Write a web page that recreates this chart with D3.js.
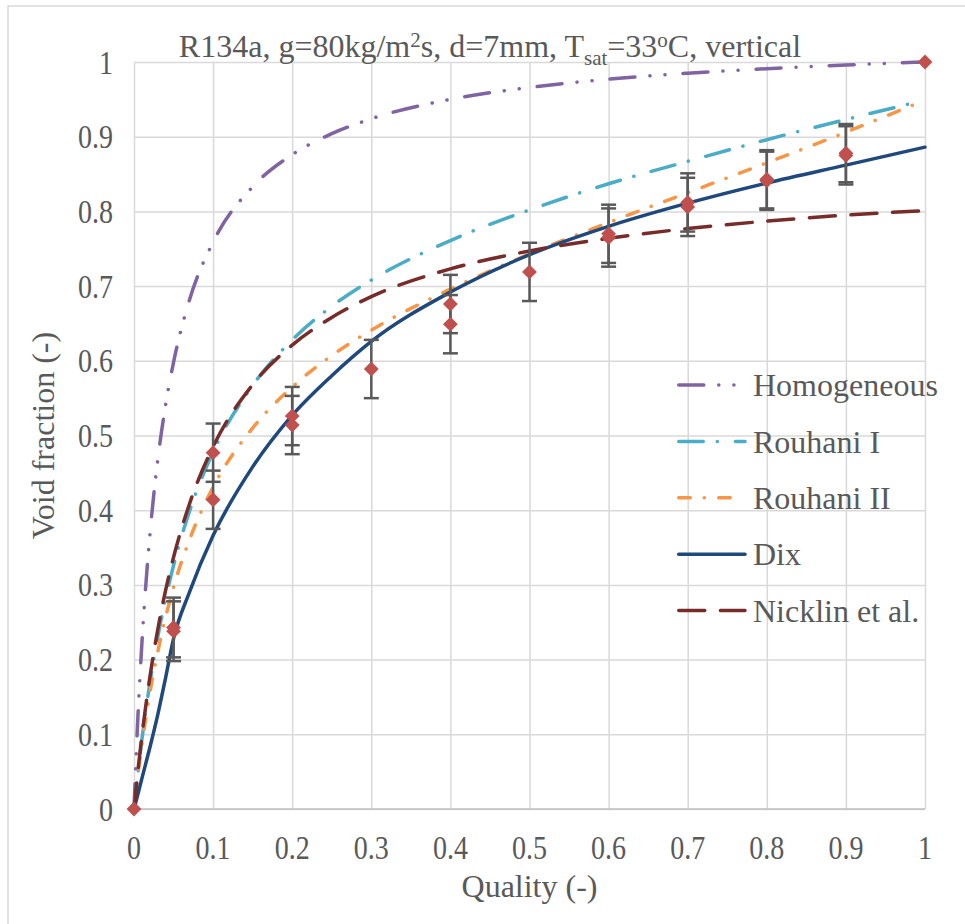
<!DOCTYPE html>
<html>
<head>
<meta charset="utf-8">
<script src="https://cdn.jsdelivr.net/npm/d3@7"></script>
<style>
  html, body { margin: 0; padding: 0; background: #fff; }
  svg text { font-family: "Liberation Serif", "Times New Roman", serif; fill: #595959; }
</style>
</head>
<body>
<div id="chart"></div>
<script>
// quality values where the model curves were read
var qModel = [0, 0.005, 0.01, 0.02, 0.03, 0.04, 0.05, 0.07, 0.1, 0.15, 0.2, 0.25, 0.3, 0.4, 0.5, 0.6, 0.7, 0.8, 0.9, 1];
var homogeneous = [0, 0.125, 0.222, 0.366, 0.467, 0.541, 0.598, 0.681, 0.759, 0.833, 0.876, 0.904, 0.924, 0.950, 0.966, 0.977, 0.985, 0.991, 0.996, 1];
var rouhaniI = [0, 0.049, 0.093, 0.168, 0.230, 0.282, 0.326, 0.398, 0.478, 0.567, 0.628, 0.673, 0.708, 0.761, 0.802, 0.837, 0.867, 0.896, 0.923, 0.949];
var rouhaniII = [0, 0.046, 0.086, 0.155, 0.210, 0.257, 0.297, 0.360, 0.431, 0.510, 0.565, 0.607, 0.641, 0.696, 0.743, 0.785, 0.825, 0.865, 0.906, 0.949];
var dix = [0, 0.020, 0.041, 0.082, 0.126, 0.176, 0.228, 0.290, 0.366, 0.458, 0.527, 0.580, 0.626, 0.692, 0.742, 0.780, 0.811, 0.838, 0.862, 0.886];
var nicklin = [0, 0.052, 0.098, 0.176, 0.240, 0.293, 0.337, 0.408, 0.485, 0.568, 0.621, 0.658, 0.686, 0.723, 0.747, 0.764, 0.777, 0.787, 0.795, 0.801];

// experimental points with +/- error
var qExp = [0, 0.05, 0.05, 0.1, 0.1, 0.2, 0.2, 0.3, 0.4, 0.4, 0.5, 0.6, 0.6, 0.7, 0.7, 0.8, 0.8, 0.9, 0.9, 1];
var alphaExp = [0, 0.243, 0.238, 0.477, 0.414, 0.526, 0.514, 0.589, 0.676, 0.649, 0.719, 0.770, 0.765, 0.812, 0.806, 0.843, 0.841, 0.878, 0.875, 1];
var errExp = [0, 0.04, 0.04, 0.039, 0.039, 0.039, 0.039, 0.039, 0.039, 0.039, 0.039, 0.039, 0.039, 0.039, 0.039, 0.039, 0.039, 0.039, 0.039, 0];

var xTicks = [0, 0.1, 0.2, 0.3, 0.4, 0.5, 0.6, 0.7, 0.8, 0.9, 1];
var yTicks = [0, 0.1, 0.2, 0.3, 0.4, 0.5, 0.6, 0.7, 0.8, 0.9, 1];

var series = [
  { name: 'Homogeneous', values: homogeneous, color: '#8064A2', dash: '25,15,0.1,15,0.1,18' },
  { name: 'Rouhani I', values: rouhaniI, color: '#4BACC6', dash: '24.5,14,0.1,18' },
  { name: 'Rouhani II', values: rouhaniII, color: '#F79646', dash: '11.5,14,0.1,14.4' },
  { name: 'Dix', values: dix, color: '#1F497D', dash: null },
  { name: 'Nicklin et al.', values: nicklin, color: '#772C2A', dash: '26,15.7' }
];

var width = 965, height = 924;
var margin = { top: 62, right: 40, bottom: 115, left: 134 };

var svg = d3.select('#chart').append('svg')
  .attr('width', width)
  .attr('height', height);

// chart frame
svg.append('rect')
  .attr('x', 8).attr('y', 6)
  .attr('width', width + 10).attr('height', height + 10)
  .attr('fill', 'none')
  .attr('stroke', '#D9D9D9')
  .attr('stroke-width', 1.5);

var x = d3.scaleLinear().domain([0, 1]).range([margin.left, width - margin.right]);
var y = d3.scaleLinear().domain([0, 1]).range([height - margin.bottom, margin.top]);

// grid
svg.append('g')
  .attr('transform', 'translate(0,' + y(0) + ')')
  .call(d3.axisBottom(x).tickValues(xTicks).tickSize(-(y(0) - y(1))).tickFormat(''))
  .call(function (g) {
    g.select('.domain').remove();
    g.selectAll('line').attr('stroke', '#D9D9D9').attr('stroke-width', 1.5);
  });
svg.append('g')
  .attr('transform', 'translate(' + x(0) + ',0)')
  .call(d3.axisLeft(y).tickValues(yTicks).tickSize(-(x(1) - x(0))).tickFormat(''))
  .call(function (g) {
    g.select('.domain').remove();
    g.selectAll('line').attr('stroke', '#D9D9D9').attr('stroke-width', 1.5);
  });
svg.append('line')
  .attr('x1', x(0)).attr('x2', x(1))
  .attr('y1', y(0)).attr('y2', y(0))
  .attr('stroke', '#BFBFBF').attr('stroke-width', 1.5);

// tick labels (narrow, tall glyphs like the original)
svg.append('g').selectAll('text')
  .data(xTicks)
  .enter().append('text')
  .attr('transform', function (d) { return 'translate(' + x(d) + ',' + (y(0) + 50) + ') scale(0.85,1)'; })
  .attr('text-anchor', 'middle')
  .style('font-size', '33px')
  .text(function (d) { return d3.format('')(d); });
svg.append('g').selectAll('text')
  .data(yTicks)
  .enter().append('text')
  .attr('transform', function (d) { return 'translate(' + (x(0) - 21) + ',' + y(d) + ') scale(0.85,1)'; })
  .attr('dy', '0.35em')
  .attr('text-anchor', 'end')
  .style('font-size', '33px')
  .text(function (d) { return d3.format('')(d); });

// axis titles
svg.append('text')
  .attr('x', (x(0) + x(1)) / 2)
  .attr('y', 897)
  .attr('text-anchor', 'middle')
  .style('font-size', '32px')
  .text('Quality (-)');
svg.append('text')
  .attr('transform', 'translate(54,' + ((y(0) + y(1)) / 2) + ') rotate(-90)')
  .attr('text-anchor', 'middle')
  .style('font-size', '32px')
  .text('Void fraction (-)');

// title
var title = svg.append('text')
  .attr('x', 490)
  .attr('y', 57)
  .attr('text-anchor', 'middle')
  .style('font-size', '32px');
title.append('tspan').text('R134a, g=80kg/m');
title.append('tspan').attr('dy', -10).style('font-size', '21px').text('2');
title.append('tspan').attr('dy', 10).text('s, d=7mm, T');
title.append('tspan').attr('dy', 8).style('font-size', '21px').text('sat');
title.append('tspan').attr('dy', -8).text('=33');
title.append('tspan').attr('dy', -10).style('font-size', '21px').text('o');
title.append('tspan').attr('dy', 10).text('C, vertical');

// model curves
var line = d3.line()
  .x(function (d) { return x(d[0]); })
  .y(function (d) { return y(d[1]); })
  .curve(d3.curveMonotoneX);

series.forEach(function (s) {
  svg.append('path')
    .datum(qModel.map(function (q, i) { return [q, s.values[i]]; }))
    .attr('d', line)
    .attr('fill', 'none')
    .attr('stroke', s.color)
    .attr('stroke-width', 3.5)
    .attr('stroke-linecap', 'round')
    .attr('stroke-dasharray', s.dash);
});

// experimental data with error bars
var expData = qExp.map(function (q, i) { return { q: q, a: alphaExp[i], e: errExp[i] }; });
var bars = svg.append('g').selectAll('g')
  .data(expData.filter(function (d) { return d.e > 0; }))
  .enter().append('g')
  .attr('stroke', '#595959')
  .attr('stroke-width', 2.5);
bars.append('line')
  .attr('x1', function (d) { return x(d.q); })
  .attr('x2', function (d) { return x(d.q); })
  .attr('y1', function (d) { return y(d.a - d.e); })
  .attr('y2', function (d) { return y(d.a + d.e); });
bars.selectAll('.cap')
  .data(function (d) { return [d.a - d.e, d.a + d.e].map(function (v) { return { q: d.q, v: v }; }); })
  .enter().append('line')
  .attr('x1', function (d) { return x(d.q) - 7.5; })
  .attr('x2', function (d) { return x(d.q) + 7.5; })
  .attr('y1', function (d) { return y(d.v); })
  .attr('y2', function (d) { return y(d.v); });

svg.append('g').selectAll('path')
  .data(expData)
  .enter().append('path')
  .attr('d', d3.symbol().type(d3.symbolDiamond2).size(140))
  .attr('transform', function (d) { return 'translate(' + x(d.q) + ',' + y(d.a) + ')'; })
  .attr('fill', '#C0504D');

// legend
var legend = svg.append('g').selectAll('g')
  .data(series)
  .enter().append('g')
  .attr('transform', function (d, i) { return 'translate(677,' + (385 + i * 56.4) + ')'; });
legend.append('line')
  .attr('x1', 1.75).attr('x2', function (d) { return d.name === 'Rouhani II' ? 54 : 68; })
  .attr('stroke', function (d) { return d.color; })
  .attr('stroke-width', 3.5)
  .attr('stroke-linecap', 'round')
  .attr('stroke-dasharray', function (d) { return d.dash; });
legend.append('text')
  .attr('x', 76)
  .attr('dy', '0.35em')
  .style('font-size', '32px')
  .text(function (d) { return d.name; });
</script>
</body>
</html>
